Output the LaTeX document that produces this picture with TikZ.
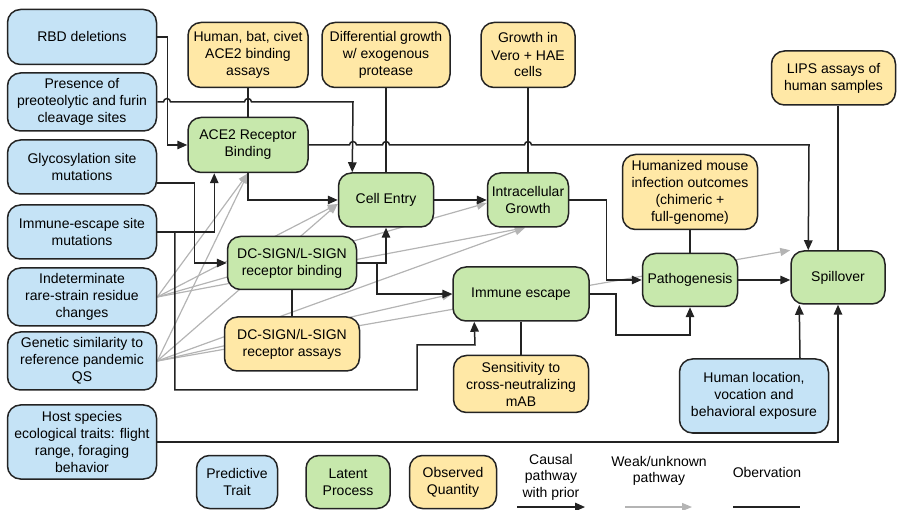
\documentclass[tikz,border=0pt]{standalone}
\usepackage{fontspec}
\setmainfont{Liberation Sans}
\usetikzlibrary{arrows.meta,backgrounds}
\definecolor{trblue}{RGB}{197,227,246}
\definecolor{lpgreen}{RGB}{199,232,172}
\definecolor{oqyellow}{RGB}{255,232,166}
\definecolor{edgeink}{RGB}{35,35,35}
\definecolor{weakgray}{RGB}{180,180,180}
\tikzset{
  vbox/.style={
    draw=edgeink, line width=1.5pt, rounded corners=13pt,
    align=center, inner sep=2pt, font=\fontsize{14}{17}\selectfont
  },
  wh/.style 2 args={minimum width=#1pt, minimum height=#2pt},
  trait/.style={vbox, fill=trblue},
  latent/.style={vbox, fill=lpgreen},
  quant/.style={vbox, fill=oqyellow},
  arr/.style={-{Triangle[length=10pt,width=8.5pt]}, draw=edgeink, line width=1.5pt},
  weak/.style={-{Triangle[length=10pt,width=8pt]}, draw=weakgray, line width=1.2pt},
  obsline/.style={draw=edgeink, line width=1.5pt},
  lbl/.style={align=center, font=\fontsize{14}{16.5}\selectfont}
}
\begin{document}
\begin{tikzpicture}[x=1pt,y=-1pt]
  \useasboundingbox (0,0) rectangle (897,510);
  % predictive traits
  \node[trait, wh={149}{55}] (rbd) at (82,37) {RBD deletions};
  \node[trait, wh={149}{58}] (pres) at (82,102) {Presence of\\preoteolytic and furin\\cleavage sites};
  \node[trait, wh={149}{54}] (glyco) at (82,167) {Glycosylation site\\mutations};
  \node[trait, wh={149}{54}] (iesc) at (82,232) {Immune-escape site\\mutations};
  \node[trait, wh={149}{58}] (indet) at (82,297) {Indeterminate\\rare-strain residue\\changes};
  \node[trait, wh={149}{58}] (gensim) at (82,361) {Genetic similarity to\\reference pandemic\\QS};
  \node[trait, wh={149}{74}] (host) at (82,442) {Host species\\ecological traits: flight\\range, foraging\\behavior};
  \node[trait, wh={149}{74}] (human) at (754,396) {Human location,\\vocation and\\behavioral exposure};
  % observed quantities
  \node[quant, wh={120}{65}] (ace2obs) at (248,55) {Human, bat, civet\\ACE2 binding\\assays};
  \node[quant, wh={128}{65}] (growobs) at (386,55) {Differential growth\\w/ exogenous\\protease};
  \node[quant, wh={94}{65}] (veroobs) at (528,55) {Growth in\\Vero + HAE\\cells};
  \node[quant, wh={124}{54}] (lips) at (833.5,78) {LIPS assays of\\human samples};
  \node[quant, wh={135}{75}] (mouse) at (690,192) {Humanized mouse\\infection outcomes\\(chimeric +\\full-genome)};
  \node[quant, wh={135}{54}] (dcassay) at (292,344) {DC-SIGN/L-SIGN\\receptor assays};
  \node[quant, wh={135}{57}] (sens) at (521,384) {Sensitivity to\\cross-neutralizing\\mAB};
  % latent processes
  \node[latent, wh={120}{55}] (ace2) at (248,145) {ACE2 Receptor\\Binding};
  \node[latent, wh={95}{54}] (entry) at (386,200) {Cell Entry};
  \node[latent, wh={81}{54}] (intra) at (528,200) {Intracellular\\Growth};
  \node[latent, wh={129}{53}] (dcbind) at (292,263) {DC-SIGN/L-SIGN\\receptor binding};
  \node[latent, wh={136}{54}] (immesc) at (521,294) {Immune escape};
  \node[latent, wh={95}{53}] (patho) at (690,280) {Pathogenesis};
  \node[latent, wh={94}{53}] (spill) at (838,277.5) {Spillover};
  % legend
  \node[trait, wh={81}{53}] (legtrait) at (237,482) {Predictive\\Trait};
  \node[latent, wh={84}{53}] (leglatent) at (348,482) {Latent\\Process};
  \node[quant, wh={87}{53}] (legquant) at (453,482) {Observed\\Quantity};
  \node[lbl] (legcausal) at (551,477) {Causal\\pathway\\with prior};
  \node[lbl] (legweak) at (659,471) {Weak/unknown\\pathway};
  \node[lbl] (legobs) at (767,472) {Obervation};
  \coordinate (causalA) at (517,507);
  \coordinate (causalB) at (585,507);
  \coordinate (weakA) at (625,507);
  \coordinate (weakB) at (692,507);
  \coordinate (obsA) at (733,507);
  \coordinate (obsB) at (800,507);

  \begin{scope}[on background layer]
    % weak / unknown pathways
    \draw[weak] (indet.east) -- (ace2.south);
    \draw[weak] (gensim.east) -- (ace2.south);
    \draw[weak] (indet.east) -- ([yshift=-4pt]entry.west);
    \draw[weak] (gensim.east) -- ([yshift=-4pt]entry.west);
    \draw[weak] (indet.east) -- ([yshift=-3pt]intra.west);
    \draw[weak] (indet.east) -- ([xshift=-3pt]intra.south);
    \draw[weak] (gensim.east) -- ([xshift=-3pt]intra.south);
    \draw[weak] (gensim.east) -- (immesc.west);
    \draw[weak] (gensim.east) -- (spill.north west);
    % causal pathways
    \draw[arr] (rbd.east) -- ++(10,0) |- (ace2.west);
    \draw[arr] (pres.east) -- (163.5,102) arc[start angle=180,end angle=0,radius=3.5pt]
      -- (244.5,102) arc[start angle=180,end angle=0,radius=3.5pt]
      -- (353,102) -- ([xshift=14.5pt]entry.north west);
    \draw[arr] (ace2.east) -- (349.5,145) arc[start angle=180,end angle=0,radius=3.5pt]
      -- (382.5,145) arc[start angle=180,end angle=0,radius=3.5pt]
      -- (524.5,145) arc[start angle=180,end angle=0,radius=3.5pt]
      -- (809,145) -- ([xshift=18pt]spill.north west);
    \draw[arr] ([yshift=-16pt]glyco.east) -- ++(37,0) |- (dcbind.west);
    \draw[arr] (iesc.east) -| ([xshift=27pt]ace2.south west);
    \draw[arr] (iesc.east) -- ++(17.5,0) |- (417,390) |- (475,345) -- ([xshift=22pt]immesc.south west);
    \draw[arr] (ace2.south) |- (entry.west);
    \draw[arr] (entry.east) -- (intra.west);
    \draw[arr] (dcbind.east) -| (entry.south);
    \draw[arr] ([xshift=19.5pt]dcbind.east) |- (immesc.west);
    \draw[arr] (intra.east) -- ++(37,0) |- (patho.west);
    \draw[arr] (immesc.east) -- ++(26,0) |- ([yshift=-28pt]patho.south) -- (patho.south);
    \draw[arr] (patho.east) -- (patho.east -| spill.west);
    \draw[arr] ([xshift=46pt]human.north) -- ([xshift=9pt]spill.south west);
    \draw[arr] (host.east) -| (spill.south);
    % observations
    \draw[obsline] (ace2obs.south) -- (ace2.north);
    \draw[obsline] (growobs.south) -- (entry.north);
    \draw[obsline] (veroobs.south) -- (intra.north);
    \draw[obsline] (lips.south -| spill.north) -- (spill.north);
    \draw[obsline] (mouse.south) -- (patho.north);
    \draw[obsline] (dcbind.south) -- (dcassay.north);
    \draw[obsline] (immesc.south) -- (sens.north);
  \end{scope}
  % legend lines
  \draw[arr] (causalA) -- (causalB);
  \draw[weak] (weakA) -- (weakB);
  \draw[obsline] (obsA) -- (obsB);
\end{tikzpicture}
\end{document}
